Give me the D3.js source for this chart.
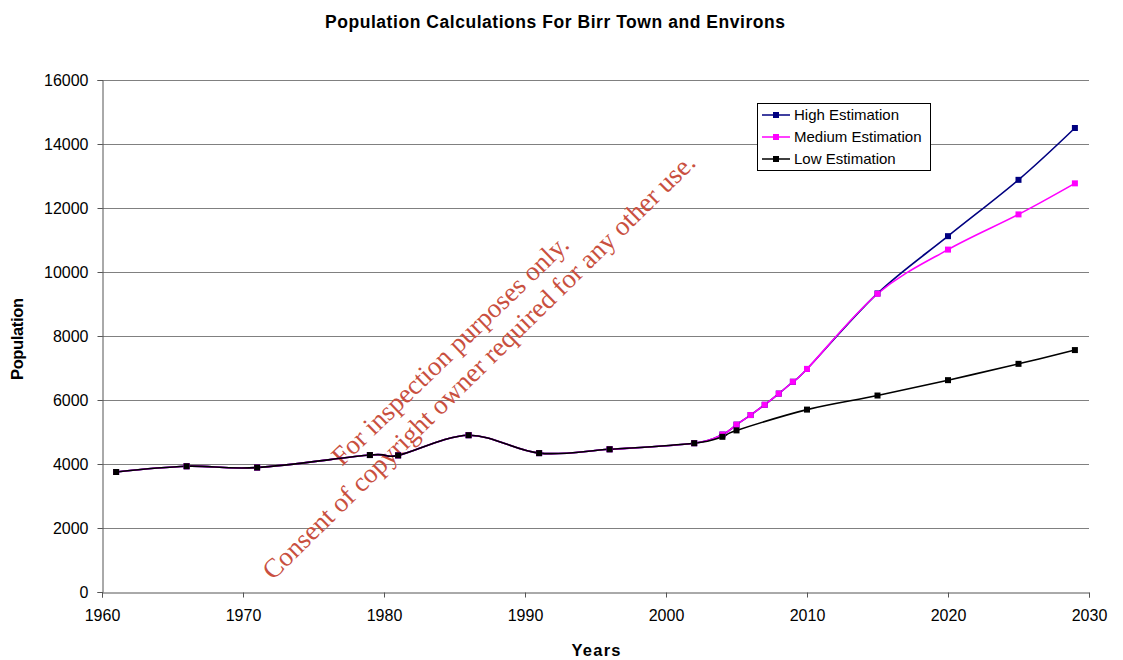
<!DOCTYPE html>
<html><head><meta charset="utf-8">
<script src="https://cdn.jsdelivr.net/npm/d3@7"></script>
<style>body{margin:0;background:#fff}svg{display:block}text{font-family:"Liberation Sans",Arial,sans-serif}</style>
</head><body><svg id="c" width="1123" height="660"></svg>
<script>
const years = [1961,1966,1971,1979,1981,1986,1991,1996,2002,2004,2005,2006,2007,2008,2009,2010,2015,2020,2025,2029];
const highVals = [3750,3930,3890,4280,4270,4900,4340,4460,4650,4920,5230,5530,5850,6200,6570,6970,9330,11120,12880,14500];
const medVals  = [3750,3930,3890,4280,4270,4900,4340,4460,4650,4920,5230,5530,5850,6200,6570,6970,9320,10700,11800,12770];
const lowYears = [1961,1966,1971,1979,1981,1986,1991,1996,2002,2004,2005,2010,2015,2020,2025,2029];
const lowVals  = [3750,3930,3890,4280,4270,4900,4340,4460,4650,4850,5050,5700,6140,6620,7130,7560];
const yTicks = [0,2000,4000,6000,8000,10000,12000,14000,16000];
const xTicks = [1960,1970,1980,1990,2000,2010,2020,2030];
const seriesNames = ["High Estimation","Medium Estimation","Low Estimation"];
const seriesColors = ["#000080","#ff00ff","#000000"];

const svg = d3.select("#c");
const x = d3.scaleLinear().domain([1960,2030]).range([102,1089]);
const y = d3.scaleLinear().domain([0,16000]).range([592,80]);

// grid
svg.append("g").selectAll("line").data(yTicks.slice(1)).join("line")
  .attr("x1",102).attr("x2",1089).attr("y1",d=>y(d)+0.5).attr("y2",d=>y(d)+0.5)
  .attr("stroke","#808080").attr("stroke-width",1);

// axes
const ya = svg.append("g").attr("transform","translate(102.5,0)")
  .call(d3.axisLeft(y).tickValues(yTicks).tickSize(5).tickPadding(9).tickFormat(d3.format("d")));
const xa = svg.append("g").attr("transform","translate(0,592.5)")
  .call(d3.axisBottom(x).tickValues(xTicks).tickSize(5).tickPadding(12).tickFormat(d3.format("d")));
[ya,xa].forEach(a=>{a.selectAll("path,line").attr("stroke","#555");a.selectAll("text").attr("font-size",16).attr("fill","#000").style("font-family","'Liberation Sans',Arial,sans-serif");});

// watermark
const wm = svg.append("g").attr("fill","#c9503f").attr("font-size",27);
wm.append("text").attr("transform","translate(342,467) rotate(-44)").text("For inspection purposes only.").style("font-family","'Liberation Serif','Times New Roman',serif");
wm.append("text").attr("transform","translate(273,581) rotate(-44.5)").text("Consent of copyright owner required for any other use.").style("font-family","'Liberation Serif','Times New Roman',serif");

// lines
const line = d3.line().x(d=>x(d[0])).y(d=>y(d[1])).curve(d3.curveCatmullRom.alpha(0));
const data = [d3.zip(years,highVals), d3.zip(years,medVals), d3.zip(lowYears,lowVals)];
data.forEach((s,i)=>{
  svg.append("path").datum(s).attr("d",line).attr("fill","none").attr("stroke",seriesColors[i]).attr("stroke-width",1.6);
});
data.forEach((s,i)=>{
  svg.append("g").selectAll("rect").data(s).join("rect")
    .attr("x",d=>x(d[0])-3).attr("y",d=>y(d[1])-3).attr("width",6).attr("height",6).attr("fill",seriesColors[i]);
});

// legend
const lg = svg.append("g");
lg.append("rect").attr("x",757.5).attr("y",103.5).attr("width",173).attr("height",67).attr("fill","#fff").attr("stroke","#000");
seriesNames.forEach((n,i)=>{
  const yy = 115+i*22;
  lg.append("line").attr("x1",762).attr("x2",790).attr("y1",yy).attr("y2",yy).attr("stroke",seriesColors[i]).attr("stroke-width",1.5);
  lg.append("rect").attr("x",773).attr("y",yy-3).attr("width",6).attr("height",6).attr("fill",seriesColors[i]);
  lg.append("text").attr("x",794).attr("y",yy+5).attr("font-size",15).text(n);
});

// titles
svg.append("text").attr("x",555).attr("y",28).attr("text-anchor","middle").attr("font-size",17.5).attr("font-weight","bold")
  .attr("textLength",460).attr("lengthAdjust","spacing").text("Population Calculations For Birr Town and Environs");
svg.append("text").attr("x",596).attr("y",656).attr("text-anchor","middle").attr("font-size",16.5).attr("font-weight","bold")
  .attr("textLength",49).attr("lengthAdjust","spacing").text("Years");
svg.append("text").attr("transform","translate(23,339) rotate(-90)").attr("text-anchor","middle").attr("font-size",16.5).attr("font-weight","bold")
  .attr("textLength",82).attr("lengthAdjust","spacing").text("Population");
</script></body></html>
